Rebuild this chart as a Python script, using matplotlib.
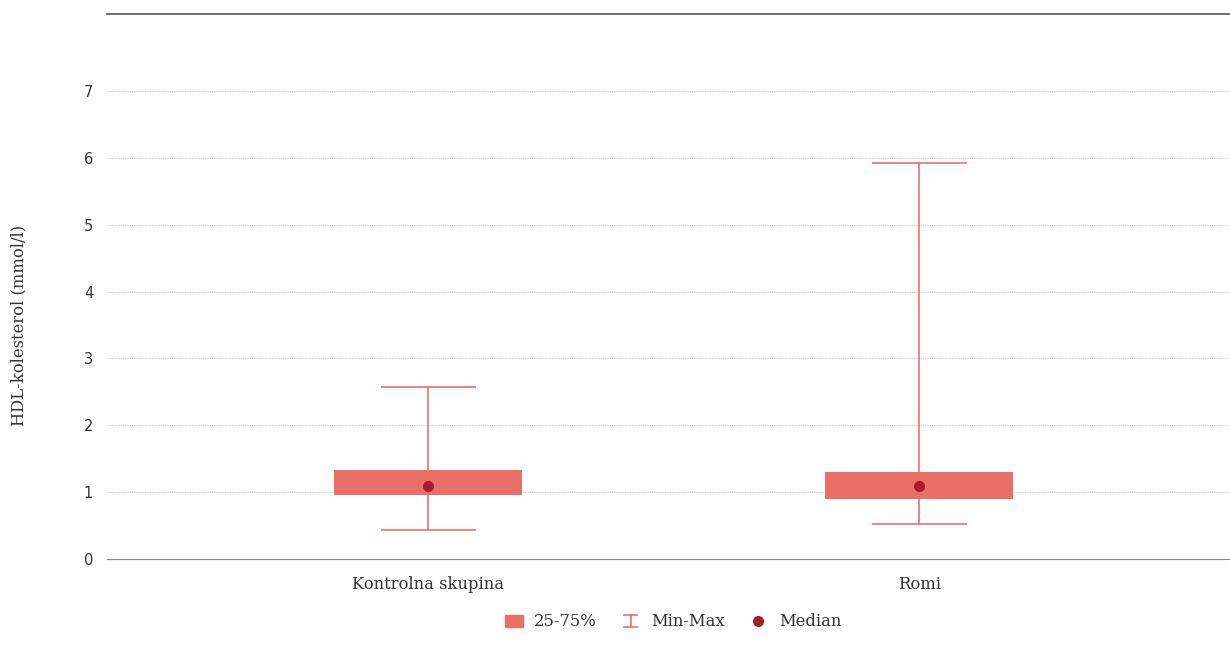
import matplotlib
matplotlib.use("Agg")
import matplotlib.pyplot as plt
from matplotlib.lines import Line2D
from matplotlib.patches import Patch
from matplotlib.legend_handler import HandlerBase

categories = ["Kontrolna skupina", "Romi"]
q1 = [0.96, 0.90]
q3 = [1.33, 1.30]
vmin = [0.43, 0.52]
vmax = [2.57, 5.92]
median = [1.09, 1.09]
yticks = [0, 1, 2, 3, 4, 5, 6, 7]

box_color = "#E96F67"
whisk_color = "#E8736D"
med_color = "#A71D2B"
text_color = "#333333"

plt.rcParams['font.family'] = ['DejaVu Serif']

fig = plt.figure(figsize=(12.3, 6.49), dpi=100)
ax = fig.add_axes([107/1230, 1-559/649, 1123/1230, (559-14)/649])

pos = list(range(len(categories)))
bw = 0.383
cw = 0.193
for i in pos:
    ax.vlines(i, vmin[i], vmax[i], color=whisk_color, lw=1.2, zorder=2)
    ax.hlines([vmin[i], vmax[i]], i - cw/2, i + cw/2, color=whisk_color, lw=1.2, zorder=2)
    ax.bar(i, q3[i]-q1[i], bottom=q1[i], width=bw, color=box_color, zorder=3)
    ax.plot(i, median[i], 'o', color=med_color, ms=7, zorder=4)

ax.set_xlim(-0.654, 1.633)
ax.set_ylim(0, 8.15)
ax.set_yticks(yticks)
ax.set_yticklabels([str(t) for t in yticks], family='DejaVu Sans', fontsize=10.5)
ax.set_xticks(pos)
ax.set_xticklabels(categories, fontsize=11.8)
ax.tick_params(axis='both', length=0, colors=text_color)
ax.tick_params(axis='y', pad=10)
ax.tick_params(axis='x', pad=12)
ax.grid(axis='y', color='#C8C8C8', ls=(0, (1, 1)), lw=0.8, zorder=0)
ax.set_axisbelow(True)
for s in ['left', 'right']:
    ax.spines[s].set_visible(False)
ax.spines['top'].set_color('#555555')
ax.spines['top'].set_linewidth(1.2)
ax.spines['bottom'].set_color('#888888')
ax.spines['bottom'].set_linewidth(0.8)
ax.set_ylabel("HDL-kolesterol (mmol/l)", fontsize=11.8, color=text_color)
ax.yaxis.set_label_coords(-80/1123, (559-325)/545)


class CapHandler(HandlerBase):
    def create_artists(self, legend, orig, xd, yd, w, h, fontsize, trans):
        cx = xd + w/2
        l1 = Line2D([cx, cx], [yd, yd+h], color=whisk_color, lw=1.2, transform=trans)
        l2 = Line2D([cx-w*0.35, cx+w*0.35], [yd+h, yd+h], color=whisk_color, lw=1.2, transform=trans)
        l3 = Line2D([cx-w*0.35, cx+w*0.35], [yd, yd], color=whisk_color, lw=1.2, transform=trans)
        return [l1, l2, l3]


class Dummy:
    pass

handles = [Patch(color=box_color), Dummy(),
           Line2D([], [], marker='o', ls='none', color=med_color, ms=7)]
leg = fig.legend(handles, ["25-75%", "Min-Max", "Median"],
                 handler_map={Dummy: CapHandler()},
                 loc='center', bbox_to_anchor=(673/1230, 1-622/649), ncol=3,
                 frameon=False, fontsize=11.8, handlelength=1.1, handletextpad=0.7,
                 columnspacing=1.5, labelcolor=text_color)

fig.savefig("out.png", dpi=100)
